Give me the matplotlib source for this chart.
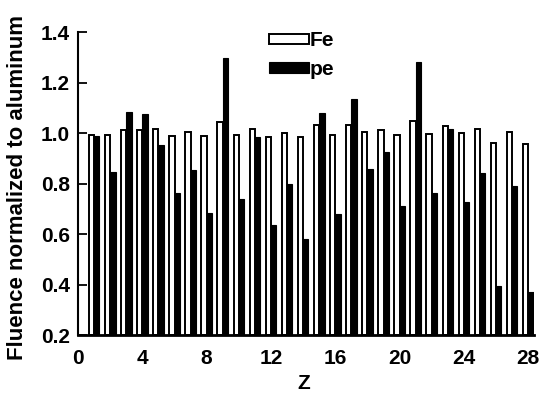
import matplotlib
matplotlib.use("Agg")
import matplotlib.pyplot as plt
import numpy as np

Z = list(range(1, 29))
fe = [0.993, 0.992, 1.013, 1.013, 1.015, 0.990, 1.006, 0.989, 1.043, 0.992,
      1.018, 0.986, 1.000, 0.984, 1.033, 0.992, 1.031, 1.006, 1.013, 0.994,
      1.046, 0.998, 1.026, 1.000, 1.017, 0.961, 1.006, 0.957]
pe = [0.988, 0.844, 1.085, 1.076, 0.953, 0.762, 0.854, 0.682, 1.297, 0.739,
      0.986, 0.637, 0.799, 0.582, 1.079, 0.678, 1.136, 0.858, 0.926, 0.711,
      1.280, 0.762, 1.015, 0.726, 0.841, 0.396, 0.792, 0.372]
xticks = [0, 4, 8, 12, 16, 20, 24, 28]
yticks = [0.2, 0.4, 0.6, 0.8, 1.0, 1.2, 1.4]

plt.rcParams['font.family'] = ['Liberation Sans', 'DejaVu Sans']
fig = plt.figure(figsize=(5.42, 3.96), dpi=100)
ax = fig.add_axes([0.144, 0.154, 0.841, 0.765])

x = np.array(Z, dtype=float)
w = 0.33
ax.bar(x - w / 2, np.array(fe) - 0.2, bottom=0.2, width=w, color='white',
       edgecolor='black', linewidth=1.4, label='Fe')
ax.bar(x + w / 2, np.array(pe) - 0.2, bottom=0.2, width=w, color='black',
       edgecolor='black', linewidth=0.8, label='pe')

ax.set_xlim(0, 28.35)
ax.set_ylim(0.2, 1.4)
ax.set_xticks(xticks)
ax.set_xticklabels([str(t) for t in xticks])
ax.set_yticks(yticks)
ax.set_yticklabels([f"{t:.1f}" for t in yticks])
ax.tick_params(axis='y', direction='in', length=6.5, width=1.3, labelsize=15, pad=6)
ax.tick_params(axis='x', length=0, labelsize=15, pad=10)
for lab in ax.get_xticklabels() + ax.get_yticklabels():
    lab.set_fontweight('bold')
ax.spines['top'].set_visible(False)
ax.spines['right'].set_visible(False)
ax.spines['left'].set_linewidth(1.5)
ax.spines['bottom'].set_linewidth(2.0)

ax.set_xlabel('Z', fontsize=15, fontweight='bold')
ax.xaxis.set_label_coords(0.496, -0.128)
ax.set_ylabel('Fluence normalized to aluminum', fontsize=16, fontweight='bold')
ax.yaxis.set_label_coords(-0.11, 0.488)

leg = ax.legend(loc='upper left', bbox_to_anchor=(0.40, 1.03), frameon=False,
                fontsize=15, handlelength=1.95, handleheight=0.4,
                handletextpad=0.0, labelspacing=0.45, borderaxespad=0)
for t in leg.get_texts():
    t.set_fontweight('bold')

fig.savefig('out.png', dpi=100)
